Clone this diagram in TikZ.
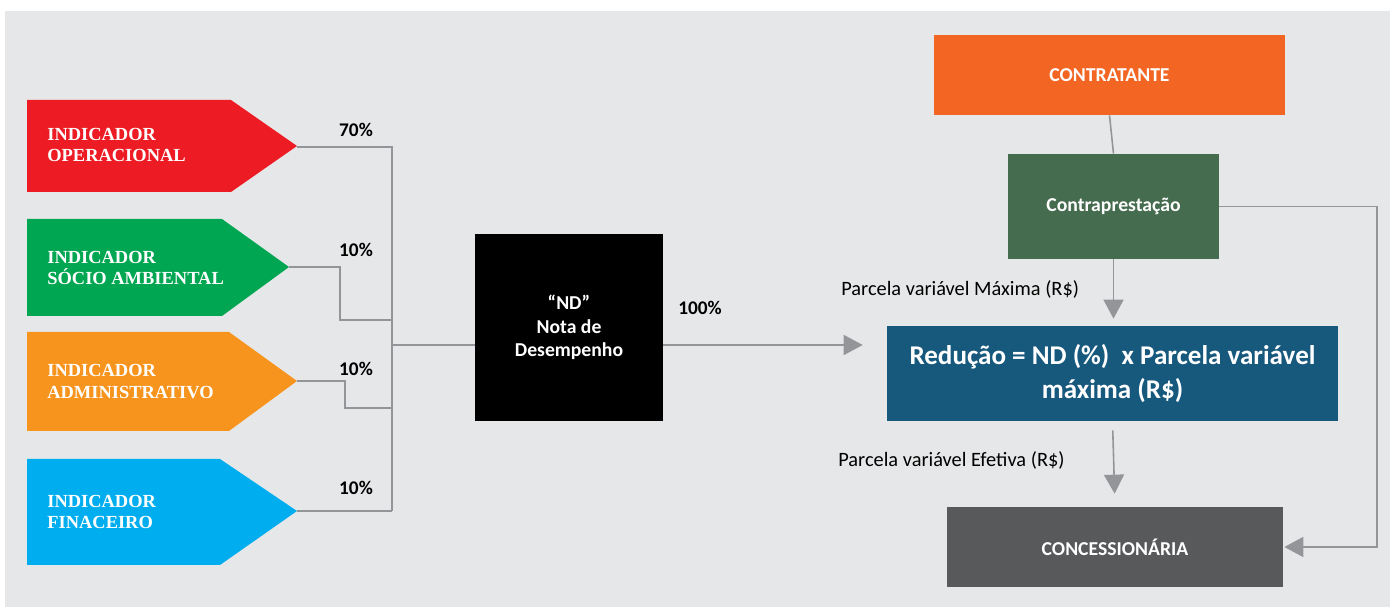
\documentclass[tikz,border=0pt]{standalone}
\usepackage{fontspec}
\setmainfont{Carlito}
\newfontfamily\indfont{Liberation Serif}
\usetikzlibrary{arrows.meta}
\definecolor{fundo}{HTML}{E6E7E8}
\definecolor{linhacor}{HTML}{939598}
\definecolor{vermelho}{HTML}{ED1C24}
\definecolor{verde}{HTML}{00A651}
\definecolor{laranja}{HTML}{F7941D}
\definecolor{azulclaro}{HTML}{00AEEF}
\definecolor{contratcor}{HTML}{F36523}
\definecolor{contracor}{HTML}{466C50}
\definecolor{reducor}{HTML}{17587D}
\definecolor{concescor}{HTML}{58595B}

\begin{document}
\begin{tikzpicture}[x=0.02cm, y=-0.02cm,
  caixa/.style={text=white, align=center, inner sep=0pt, font=\bfseries\fontsize{11.2}{13}\selectfont},
  indtexto/.style={anchor=west, text=white, align=left, inner sep=0pt, font=\indfont\bfseries\fontsize{10.5}{12.5}\selectfont},
  pct/.style={anchor=base, font=\bfseries\fontsize{11}{13}\selectfont},
  rotulo/.style={anchor=base west, inner sep=0pt, font=\fontsize{11.6}{13}\selectfont},
  linha/.style={draw=linhacor, line width=0.9pt},
  seta/.style={linha, -{Triangle[length=0.38cm, width=0.4cm]}}]
\useasboundingbox (0,0) rectangle (1390,607);
\fill[fundo] (5,11) rectangle (1390,607);
% indicadores
\fill[vermelho] (27,100) -- (231,100) -- (297,146) -- (231,192) -- (27,192) -- cycle;
\fill[verde] (27,219) -- (222,219) -- (289,267) -- (222,316) -- (27,316) -- cycle;
\fill[laranja] (27,332) -- (229,332) -- (297,381) -- (229,431) -- (27,431) -- cycle;
\fill[azulclaro] (27,459) -- (220,459) -- (297,511) -- (220,565) -- (27,565) -- cycle;
\node[indtexto] (opertxt) at (47,145) {INDICADOR\\OPERACIONAL};
\node[indtexto] (sociotxt) at (47,268) {INDICADOR\\SÓCIO AMBIENTAL};
\node[indtexto] (admintxt) at (47,382) {INDICADOR\\ADMINISTRATIVO};
\node[indtexto] (fintxt) at (47,512) {INDICADOR\\FINACEIRO};
\coordinate (oper) at (297,147);
\coordinate (socio) at (289,267);
\coordinate (admin) at (297,381);
\coordinate (fin) at (297,511);
\coordinate (bus) at (392,345);
\node[pct] (p70) at (356,137) {70\%};
\node[pct] (p10a) at (356,257) {10\%};
\node[pct] (p10b) at (356,376) {10\%};
\node[pct] (p10c) at (356,495) {10\%};
% caixas
\node[caixa, fill=black, minimum width=3.76cm, minimum height=3.74cm, font=\bfseries\fontsize{11.2}{13.5}\selectfont] (nd) at (569,327.5) {“ND”\\Nota de\\Desempenho};
\node[pct] (p100) at (700,315) {100\%};
\node[caixa, fill=contratcor, minimum width=7.02cm, minimum height=1.6cm] (contratante) at (1109.5,75) {CONTRATANTE};
\node[caixa, fill=contracor, minimum width=4.22cm, minimum height=2.1cm] (contra) at (1113.5,206.5) {Contraprestação};
\node[caixa, fill=reducor, minimum width=9.02cm, minimum height=1.9cm, font=\bfseries\fontsize{15.4}{19}\selectfont] (reducao) at (1112.5,373.5) {Redução = ND (\%)\ \ x Parcela variável\\máxima (R\$)};
\node[caixa, fill=concescor, minimum width=6.72cm, minimum height=1.6cm] (conces) at (1115,547) {CONCESSIONÁRIA};
\node[rotulo] (maxima) at (841,296) {Parcela variável Máxima (R\$)};
\node[rotulo] (efetiva) at (838,467) {Parcela variável Efetiva (R\$)};
% ligacoes
\draw[linha] (oper) -| (fin -| bus);
\draw[linha] (fin) -- (fin -| bus);
\draw[linha] (socio) -| (340,320) -- (392,320);
\draw[linha] (admin) -| (345,408) -- (392,408);
\draw[linha] (bus) -- (bus -| nd.west);
\draw[seta, shorten >=0.48cm] (bus -| nd.east) -- (bus -| reducao.west);
\draw[linha] (contratante.south) -- (contra.north);
\draw[seta, shorten >=0.14cm] (contra.south) -- (contra.south |- reducao.north);
\draw[seta, shorten <=0.18cm, shorten >=0.26cm] (reducao.south) -- (conces.north);
\draw[seta, shorten >=0.02cm] (contra.east) -- (1377,206.5) |- (conces.east);
\end{tikzpicture}
\end{document}
